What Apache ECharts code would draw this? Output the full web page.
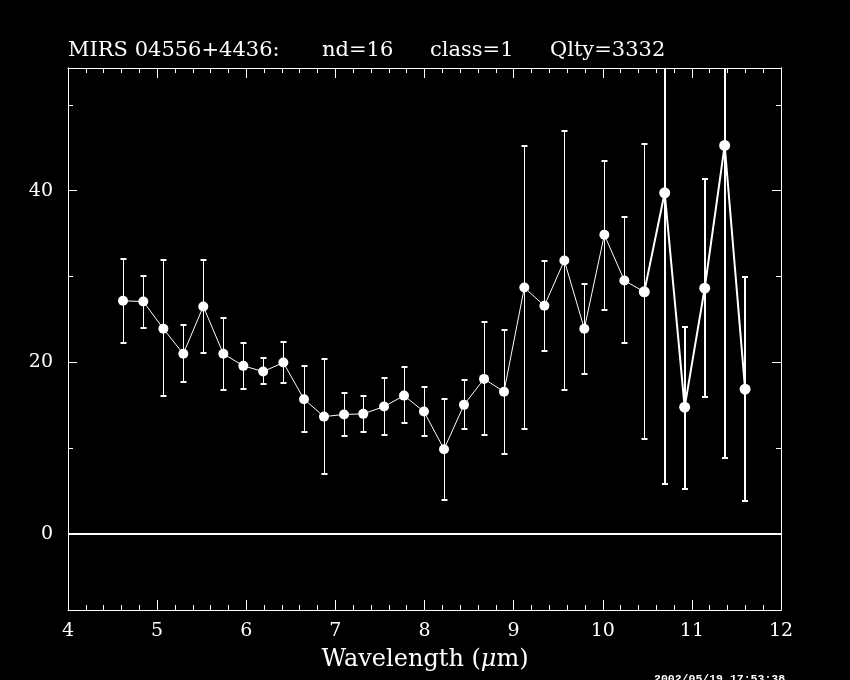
<!DOCTYPE html>
<html>
<head>
<meta charset="utf-8">
<script src="https://cdn.jsdelivr.net/npm/echarts@6/dist/echarts.min.js"></script>
<style>
html,body{margin:0;padding:0;background:#000;}
#chart{width:850px;height:680px;}
</style>
</head>
<body>
<div id="chart"></div>
<script>
// ---- data ----
const wavelength = [4.617, 4.845, 5.070, 5.294, 5.518, 5.743, 5.967, 6.190, 6.416, 6.648, 6.872, 7.097, 7.313, 7.546, 7.770, 7.994,
                    8.219, 8.443, 8.668, 8.892, 9.120, 9.345, 9.569, 9.793, 10.018, 10.242, 10.466, 10.695, 10.919, 11.144, 11.368, 11.597];
const flux = [27.15, 27.07, 23.9, 20.97, 26.5, 20.97, 19.57, 18.9, 19.95, 15.68, 13.65, 13.9, 13.97, 14.82, 16.1, 14.24,
              9.85, 15.02, 18.05, 16.55, 28.7, 26.57, 31.86, 23.89, 34.85, 29.52, 28.2, 39.75, 14.75, 28.63, 45.27, 16.85];
const errHigh = [32.0, 30.1, 31.9, 24.35, 31.9, 25.1, 22.2, 20.5, 22.4, 19.6, 20.35, 16.45, 16.1, 18.1, 19.4, 17.15,
                 15.68, 17.93, 24.7, 23.7, 45.24, 31.74, 46.95, 29.14, 43.5, 36.87, 45.4, 73.7, 24.15, 41.35, 81.7, 29.9];
const errLow = [22.2, 24.0, 16.0, 17.67, 21.05, 16.77, 16.92, 17.4, 17.55, 11.83, 6.97, 11.4, 11.9, 11.48, 12.95, 11.4,
                3.93, 12.18, 11.52, 9.3, 12.18, 21.35, 16.8, 18.6, 26.1, 22.2, 11.0, 5.76, 5.2, 15.9, 8.87, 3.8];
const xTicks = [4, 5, 6, 7, 8, 9, 10, 11, 12];
const yMajorTicks = [0, 20, 40];
const yMinorTicks = [10, 30, 50];
const titleParts = ['MIRS 04556+4436:', 'nd=16', 'class=1', 'Qlty=3332'];
const xAxisTitle = 'Wavelength (';
const timestamp = '2002/05/19 17:53:38';

// ---- layout / style ----
const X_MIN = 4, X_MAX = 12, Y_MIN = -8.9, Y_MAX = 54.3;
const THICK_FROM = 27;   // later points drawn with heavier pen
const SERIF = 'DejaVu Serif';

const pts = wavelength.map((x, i) => [x, flux[i]]);
const errData = wavelength.map((x, i) => [x, errLow[i], errHigh[i]]);

function renderErr(params, api) {
  const x = api.value(0), lo = api.value(1), hi = api.value(2);
  const pLo = api.coord([x, lo]);
  const pHi = api.coord([x, hi]);
  const cs = params.coordSys;
  const top = cs.y, bottom = cs.y + cs.height;
  const thick = params.dataIndex >= THICK_FROM;
  const lw = thick ? 2 : 1;
  const px = thick ? Math.round(pLo[0]) : Math.round(pLo[0]) + 0.5;
  const yTop = Math.max(pHi[1], top);
  const yBot = Math.min(pLo[1], bottom);
  const children = [{
    type: 'line', shape: {x1: px, y1: yBot, x2: px, y2: yTop},
    style: {stroke: '#fff', lineWidth: lw}
  }];
  const cap = 3;
  if (pHi[1] >= top) children.push({type: 'line', shape: {x1: px - cap, y1: Math.round(pHi[1]), x2: px + cap, y2: Math.round(pHi[1])}, style: {stroke: '#fff', lineWidth: 2}});
  if (pLo[1] <= bottom) children.push({type: 'line', shape: {x1: px - cap, y1: Math.round(pLo[1]), x2: px + cap, y2: Math.round(pLo[1])}, style: {stroke: '#fff', lineWidth: 2}});
  return {type: 'group', children};
}

const axisLineStyle = {color: '#fff', width: 1};
const xBase = {
  type: 'value', min: X_MIN, max: X_MAX, interval: 1,
  axisLine: {show: true, onZero: false, lineStyle: axisLineStyle},
  axisTick: {show: true, inside: true, length: 10, lineStyle: {color: '#fff', width: 1}},
  minorTick: {show: true, splitNumber: 5, length: 5, lineStyle: {color: '#fff', width: 1}},
  splitLine: {show: false}, minorSplitLine: {show: false}
};
function yAxisDef(pos, ticks, len, labels) {
  return {
    type: 'value', min: Y_MIN, max: Y_MAX, position: pos,
    axisLine: {show: true, onZero: false, lineStyle: axisLineStyle},
    axisTick: {show: true, inside: true, length: len, customValues: ticks, lineStyle: {color: '#fff', width: 1}},
    axisLabel: labels ? {show: true, customValues: ticks, color: '#fff', fontFamily: SERIF, fontSize: 19, margin: 15} : {show: false},
    splitLine: {show: false}
  };
}

const titleX = [68, 322, 430, 550];

const option = {
  backgroundColor: '#000',
  animation: false,
  grid: {left: 68, right: 69, top: 68, bottom: 70},
  xAxis: [
    Object.assign({}, xBase, {position: 'bottom',
      axisLabel: {show: true, color: '#fff', fontFamily: SERIF, fontSize: 19, margin: 12,
        customValues: xTicks, formatter: v => String(v)}}),
    Object.assign({}, xBase, {position: 'top', axisLabel: {show: false}})
  ],
  yAxis: [
    yAxisDef('left', yMajorTicks, 9, true),
    yAxisDef('left', yMinorTicks, 5, false),
    yAxisDef('right', yMajorTicks, 9, false),
    yAxisDef('right', yMinorTicks, 5, false)
  ],
  series: [
    {
      type: 'custom', xAxisIndex: 0, yAxisIndex: 0, data: errData,
      renderItem: renderErr, silent: true, z: 2
    },
    {
      type: 'line', xAxisIndex: 0, yAxisIndex: 0,
      data: pts.slice(0, THICK_FROM),
      symbol: 'circle', symbolSize: 10, showAllSymbol: true,
      itemStyle: {color: '#fff'}, lineStyle: {color: '#fff', width: 1},
      z: 3,
      markLine: {
        silent: true, symbol: 'none', label: {show: false},
        lineStyle: {color: '#fff', width: 2, type: 'solid'},
        data: [{yAxis: 0}]
      }
    },
    {
      type: 'line', xAxisIndex: 0, yAxisIndex: 0,
      data: pts.slice(THICK_FROM - 1),
      symbol: 'circle', symbolSize: 11, showAllSymbol: true,
      itemStyle: {color: '#fff'}, lineStyle: {color: '#fff', width: 2},
      z: 3
    }
  ],
  graphic: [
    ...titleParts.map((t, i) => ({
      type: 'text', left: titleX[i], top: 40,
      style: {text: t, fill: '#fff', font: '21px "' + SERIF + '"'}
    })),
    {
      type: 'text', left: 'center', top: 648,
      style: {
        text: '{n|' + xAxisTitle + '}{i|μ}{n|m)}',
        rich: {
          n: {fill: '#fff', fontFamily: SERIF, fontSize: 24},
          i: {fill: '#fff', fontFamily: SERIF, fontSize: 24, fontStyle: 'italic'}
        }
      }
    },
    {
      type: 'text', left: 654, top: 673,
      style: {text: timestamp, fill: '#fff', font: 'bold 11.5px "Liberation Mono"'}
    }
  ]
};

const chart = echarts.init(document.getElementById('chart'), null, {renderer: 'canvas'});
chart.setOption(option);
</script>
</body>
</html>
